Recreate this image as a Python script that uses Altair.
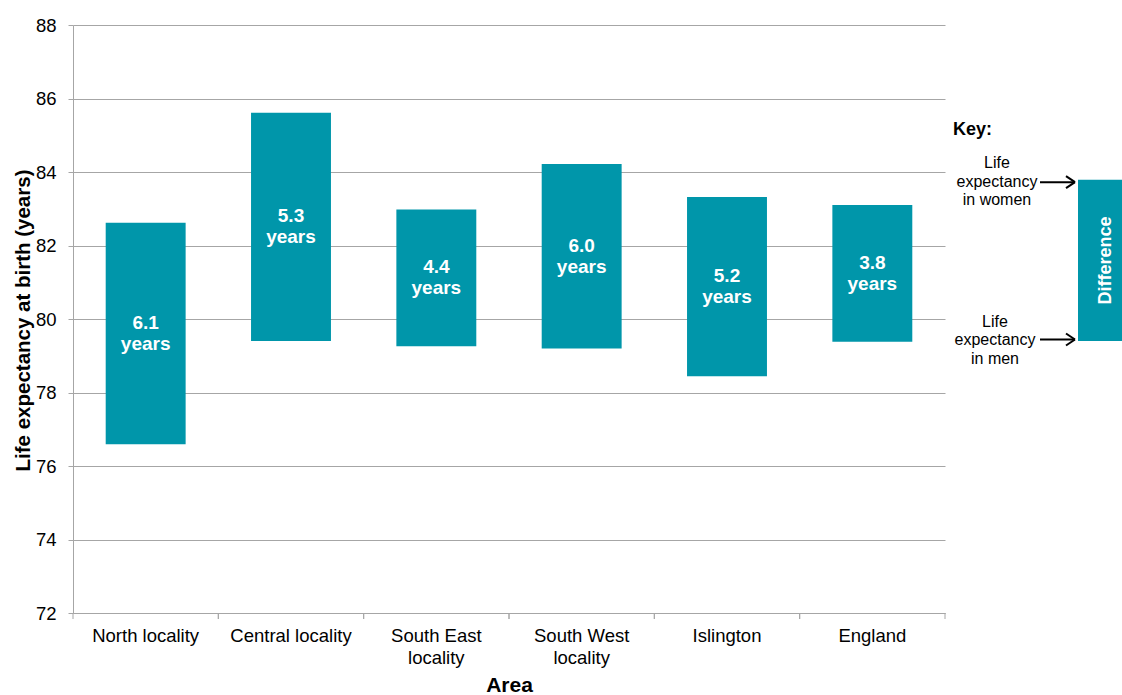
import altair as alt
import pandas as pd

# ---- data ----
areas = ["North locality", "Central locality", "South East locality",
         "South West locality", "Islington", "England"]
women = [82.62, 85.61, 82.98, 84.22, 83.32, 83.10]
men = [76.59, 79.40, 79.26, 79.20, 78.44, 79.38]
gaps = [6.1, 5.3, 4.4, 6.0, 5.2, 3.8]

key_women = 83.79
key_men = 79.40

FONT = "Liberation Sans"
TEAL = "#0096AA"
GRID = "#A6A6A6"

df = pd.DataFrame({
    "area": areas,
    "women": women,
    "men": men,
    "mid": [(w + m) / 2 for w, m in zip(women, men)],
    "label": [f"{g:.1f}\nyears" for g in gaps],
})

xscale = alt.Scale(domain=areas, paddingInner=0, paddingOuter=0)
yscale = alt.Scale(domain=[72, 88], nice=False, zero=False)

x_enc = alt.X(
    "area:N", scale=xscale, sort=areas,
    axis=alt.Axis(
        title="Area", titleFont=FONT, titleFontSize=21, titleFontWeight="bold",
        titleColor="black", titleY=72, titleBaseline="middle",
        labelFont=FONT, labelFontSize=18.5, labelColor="black", labelAngle=0,
        labelPadding=13, labelLineHeight=22, labelLimit=300,
        labelExpr="length(datum.label) > 17 ? [slice(datum.label, 0, indexof(datum.label, ' locality')), 'locality'] : datum.label",
        ticks=False, domainColor=GRID, domainWidth=1, grid=False,
    ),
)

y_enc = alt.Y(
    "women:Q", scale=yscale,
    axis=alt.Axis(
        title="Life expectancy at birth (years)", titleFont=FONT, titleFontSize=20.5,
        titleFontWeight="bold", titleColor="black", titleAngle=270,
        titleX=-50, titleY=295, titleAlign="center", titleBaseline="middle",
        values=[72, 74, 76, 78, 80, 82, 84, 86, 88],
        labelFont=FONT, labelFontSize=18.5, labelColor="black", labelPadding=12,
        tickSize=5, tickColor=GRID, domainColor=GRID, gridColor=GRID, gridWidth=1,
        grid=True,
    ),
)

bars = alt.Chart(df).mark_bar(color=TEAL, width=alt.RelativeBandSize(0.55)).encode(
    x=x_enc, y=y_enc, y2="men:Q"
)

labels = alt.Chart(df).mark_text(
    color="white", font=FONT, fontSize=19, fontWeight="bold",
    lineBreak="\n", lineHeight=21, baseline="middle", align="center", dy=-10.5
).encode(
    x=alt.X("area:N", scale=xscale, sort=areas),
    y=alt.Y("mid:Q", scale=yscale),
    text="label:N",
)

ticks_a = alt.Chart(df).mark_rule(color=GRID, strokeWidth=1).encode(
    x=alt.X("area:N", scale=xscale, sort=areas, bandPosition=0),
    y=alt.value(588), y2=alt.value(594),
)
ticks_b = alt.Chart(df).mark_rule(color=GRID, strokeWidth=1).encode(
    x=alt.X("area:N", scale=xscale, sort=areas, bandPosition=1),
    y=alt.value(588), y2=alt.value(594),
)

# ---- key (legend drawn to the right) ----
kdf = pd.DataFrame({"top": [key_women], "bottom": [key_men],
                    "mid": [(key_women + key_men) / 2]})

key_title = alt.Chart(kdf).mark_text(
    text="Key:", font=FONT, fontSize=18, fontWeight="bold", color="black",
    align="left", baseline="middle"
).encode(x=alt.value(880), y=alt.value(104.5))

key_rect = alt.Chart(kdf).mark_rect(color=TEAL).encode(
    x=alt.value(1005), x2=alt.value(1049),
    y=alt.Y("top:Q", scale=yscale), y2="bottom:Q",
)

key_diff = alt.Chart(kdf).mark_text(
    text="Difference", font=FONT, fontSize=18, fontWeight="bold", color="white",
    angle=270, align="center", baseline="middle"
).encode(x=alt.value(1033), y=alt.Y("mid:Q", scale=yscale))

key_w = alt.Chart(kdf).mark_text(
    text="Life\nexpectancy\nin women", lineBreak="\n", lineHeight=18.5,
    font=FONT, fontSize=16, color="black", align="center", baseline="middle"
).encode(x=alt.value(924), y=alt.value(138))

key_m = alt.Chart(kdf).mark_text(
    text="Life\nexpectancy\nin men", lineBreak="\n", lineHeight=18.5,
    font=FONT, fontSize=16, color="black", align="center", baseline="middle"
).encode(x=alt.value(922), y=alt.value(296.5))


def arrow(yc):
    shaft = alt.Chart(kdf).mark_rule(color="black", strokeWidth=2).encode(
        x=alt.value(967), x2=alt.value(1002), y=alt.value(yc), y2=alt.value(yc))
    h1 = alt.Chart(kdf).mark_rule(color="black", strokeWidth=2).encode(
        x=alt.value(993), x2=alt.value(1002), y=alt.value(yc - 6), y2=alt.value(yc))
    h2 = alt.Chart(kdf).mark_rule(color="black", strokeWidth=2).encode(
        x=alt.value(993), x2=alt.value(1002), y=alt.value(yc + 6), y2=alt.value(yc))
    return [shaft, h1, h2]


chart = alt.layer(
    bars, labels, ticks_a, ticks_b,
    key_title, key_rect, key_diff, key_w, key_m,
    *arrow(157.2), *arrow(314.5),
).properties(
    width=872, height=588,
    padding={"left": 73, "top": 25, "right": 177, "bottom": 82},
    autosize=alt.AutoSizeParams(type="none"),
    background="white",
).configure_view(stroke=None)

chart.save("out.html", embed_options={"renderer": "svg", "actions": False})
